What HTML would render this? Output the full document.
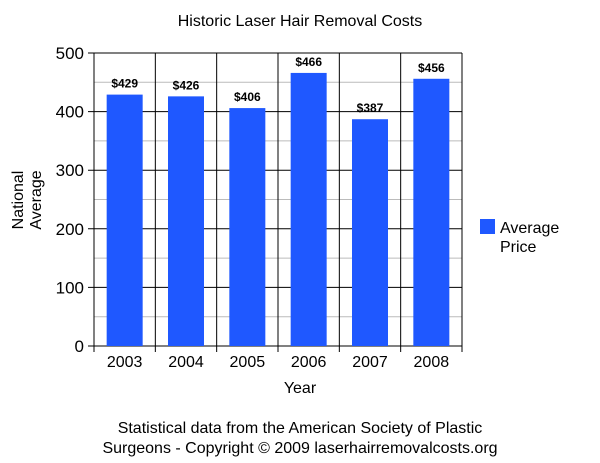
<!DOCTYPE html>
<html><head><meta charset="utf-8"><style>
body{margin:0;background:#fff;}
svg{display:block;font-family:"Liberation Sans",sans-serif;}
</style></head><body>
<svg id="chart" width="600" height="463">
<text x="300" y="26" font-size="16" text-anchor="middle">Historic Laser Hair Removal Costs</text>
<g id="grid"></g>
<g id="bars"></g>
<g id="axes"></g>
<text x="300" y="393" font-size="16" text-anchor="middle">Year</text>
<text transform="translate(23,200) rotate(-90)" font-size="16" text-anchor="middle"><tspan x="0" dy="0">National</tspan><tspan x="0" dy="18">Average</tspan></text>
<g>
<rect x="480" y="219" width="15" height="15" fill="#1f58ff"/>
<text x="500" y="233" font-size="16"><tspan x="500">Average</tspan><tspan x="500" dy="19">Price</tspan></text>
</g>
<text x="300" y="433" font-size="16" text-anchor="middle">Statistical data from the American Society of Plastic</text>
<text x="300" y="453" font-size="16" text-anchor="middle">Surgeons - Copyright © 2009 laserhairremovalcosts.org</text>
</svg>
<script>
const categories=["2003","2004","2005","2006","2007","2008"];
const values=[429,426,406,466,387,456];
const valueLabels=["$429","$426","$406","$466","$387","$456"];
const yTicks=[0,100,200,300,400,500];
const L=94,R=462,T=53,B=346,ymax=500;
const ns="http://www.w3.org/2000/svg";
const bw=(R-L)/categories.length;
const y=v=>B-(v/ymax)*(B-T);
const x=i=>L+i*bw;
function mk(p,tag,a){const e=document.createElementNS(ns,tag);for(const k in a)e.setAttribute(k,a[k]);p.appendChild(e);return e;}
const grid=document.getElementById('grid'),bars=document.getElementById('bars'),axes=document.getElementById('axes');
for(let v=50;v<ymax;v+=100){
 const l=mk(grid,'line',{x1:L,x2:R,y1:y(v),y2:y(v),stroke:'#bbb','stroke-width':1});
 
 
}
yTicks.forEach(v=>{
 const l=mk(grid,'line',{x1:L-6,x2:R,y1:y(v),y2:y(v),stroke:'#000','stroke-width':1});
 
 
 const t=mk(axes,'text',{x:L-10,y:y(v)+6,'font-size':17,'text-anchor':'end'});
 t.textContent=v;
 
 
});
for(let i=0;i<=categories.length;i++){
 const l=mk(grid,'line',{x1:x(i),x2:x(i),y1:T,y2:B+6,stroke:'#000','stroke-width':1});
 
 
}
categories.forEach((c,i)=>{
 const cx=x(i)+bw/2;
 const r=mk(bars,'rect',{x:cx-18,y:y(values[i]),width:36,height:B-y(values[i]),fill:'#1f58ff'});
 
 
 const vl=mk(bars,'text',{x:cx,y:y(values[i])-7,'font-size':12,'font-weight':'bold','text-anchor':'middle'});
 vl.textContent=valueLabels[i];
 
 
 const t=mk(axes,'text',{x:cx,y:B+21,'font-size':16,'text-anchor':'middle'});
 t.textContent=c;
 
 
});
</script>
</body></html>
